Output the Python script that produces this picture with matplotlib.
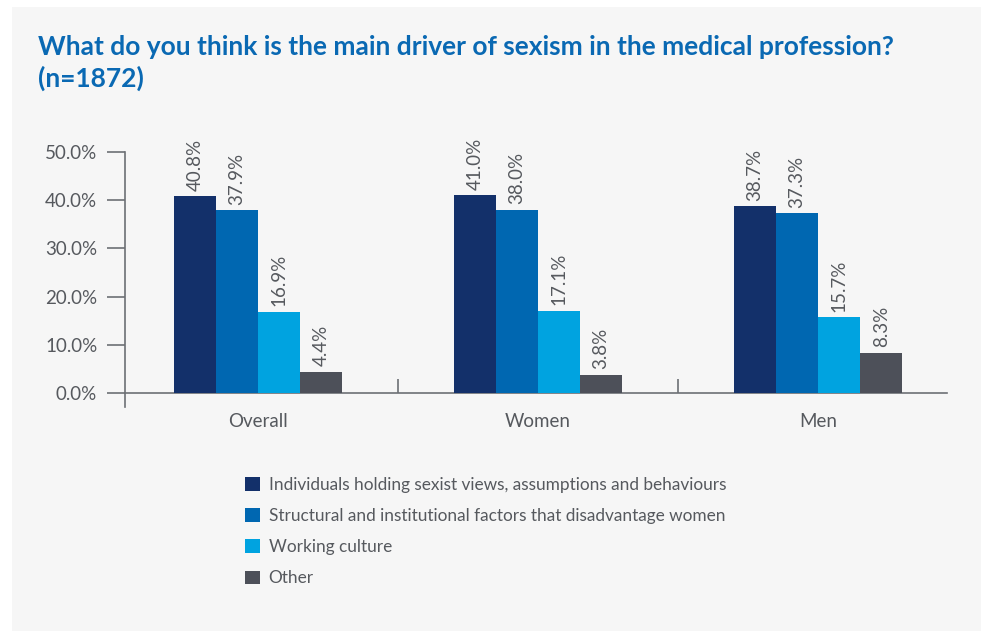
import matplotlib
matplotlib.use("Agg")
import matplotlib.pyplot as plt
from matplotlib.patches import Rectangle, Patch
import numpy as np

categories = ["Overall", "Women", "Men"]
series_names = [
    "Individuals holding sexist views, assumptions and behaviours",
    "Structural and institutional factors that disadvantage women",
    "Working culture",
    "Other",
]
individuals = [40.8, 41.0, 38.7]
structural = [37.9, 38.0, 37.3]
working = [16.9, 17.1, 15.7]
other = [4.4, 3.8, 8.3]
yticks = [0, 10, 20, 30, 40, 50]

colors = ["#13306a", "#0067b1", "#00a3e0", "#4d5059"]
txt = "#56595e"
axc = "#6d7075"

plt.rcParams["font.family"] = ["Lato", "DejaVu Sans"]

fig = plt.figure(figsize=(9.81, 6.31), dpi=100, facecolor="white")
fig.patches.append(Rectangle((12 / 981, 0), 1, 1 - 7 / 631, transform=fig.transFigure,
                             facecolor="#f6f6f6", edgecolor="none", zorder=-10))

fig.text(38 / 981, 1 - 63 / 631,
         "What do you think is the main driver of sexism in the medical profession?\n(n=1872)",
         color="#0a69b3", fontsize=19, fontweight="bold", ha="left", va="center",
         linespacing=1.3)

ax = fig.add_axes([125 / 981, 1 - 393 / 631, (947 - 125) / 981, (393 - 152) / 631])
ax.set_facecolor("none")
x = np.arange(len(categories))
w = 0.15
data = [individuals, structural, working, other]
for i, (vals, c, name) in enumerate(zip(data, colors, series_names)):
    pos = x + (i - 1.5) * w
    ax.bar(pos, vals, width=w, color=c, label=name, zorder=3)
    for px, v in zip(pos, vals):
        ax.annotate(f"{v:.1f}%", (px, v), xytext=(0, 4), textcoords="offset points",
                    rotation=90, ha="center", va="bottom", fontsize=13.5, color=txt)

ax.set_xlim(-0.475, 2.46)
ax.set_ylim(0, 50)
ax.set_yticks(yticks)
ax.set_yticklabels([f"{t:.1f}%" for t in yticks])
ax.set_xticks(x)
ax.set_xticklabels(categories)
ax.set_xticks([0.5, 1.5], minor=True)
for s in ["top", "right"]:
    ax.spines[s].set_visible(False)
ax.spines["left"].set_bounds(-3, 50)
for s in ["left", "bottom"]:
    ax.spines[s].set_color(axc)
    ax.spines[s].set_linewidth(1.2)
ax.tick_params(axis="y", direction="out", length=13, width=1.2, color=axc, pad=7,
               labelsize=13.5, labelcolor=txt)
ax.tick_params(axis="x", which="major", length=0, pad=14.5, labelsize=13.5, labelcolor=txt)
ax.tick_params(axis="x", which="minor", direction="in", length=10, width=1.2, color=axc)

handles = [Patch(facecolor=c, edgecolor="none") for c in colors]
fig.legend(handles, series_names, loc="upper left",
           bbox_to_anchor=(245 / 981, 1 - 477 / 631), bbox_transform=fig.transFigure,
           frameon=False, fontsize=12.4, labelcolor=txt, handlelength=0.87, handleheight=0.87,
           handletextpad=0.5, labelspacing=0.88, borderpad=0, borderaxespad=0)

fig.savefig("out.png", dpi=100, facecolor=fig.get_facecolor())
